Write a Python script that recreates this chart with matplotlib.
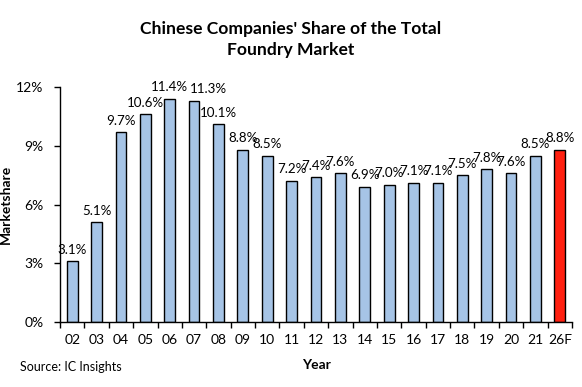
import matplotlib.pyplot as plt
import numpy as np

years = ['02', '03', '04', '05', '06', '07', '08', '09', '10', '11', '12',
         '13', '14', '15', '16', '17', '18', '19', '20', '21', '26F']
share = [3.1, 5.1, 9.7, 10.6, 11.4, 11.3, 10.1, 8.8, 8.5, 7.2, 7.4,
         7.6, 6.9, 7.0, 7.1, 7.1, 7.5, 7.8, 7.6, 8.5, 8.8]

plt.rcParams['font.family'] = ['Lato', 'DejaVu Sans']

fig = plt.figure(figsize=(5.82, 3.87), dpi=100)
ax = fig.add_axes([0.1031, 0.168, 0.8797, 0.607])

x = np.arange(len(years))
colors = ['#A6C4E6'] * (len(years) - 1) + ['#FF2010']
ax.bar(x, share, width=0.44, color=colors, edgecolor='black', linewidth=1)

for i, (xi, v) in enumerate(zip(x, share)):
    # the 07 label sits nudged right in the original so it clears 06
    dx = 10 if i == 5 else 0
    ax.annotate(f'{v:.1f}%', (xi, v), xytext=(dx, 4), textcoords='offset points',
                ha='center', va='bottom', fontsize=9.6)

ax.set_xlim(-0.5, len(years) - 0.5)
ax.set_ylim(0, 12)
ax.set_yticks([0, 3, 6, 9, 12])
ax.set_yticklabels(['0%', '3%', '6%', '9%', '12%'], fontsize=10)
ax.set_xticks(x)
ax.set_xticklabels(years, fontsize=10)
ax.set_xticks(np.arange(-0.5, len(years)), minor=True)
ax.tick_params(axis='x', which='major', length=0, pad=9)
ax.tick_params(axis='x', which='minor', length=4, width=1, direction='out')
ax.tick_params(axis='y', length=4, width=1, direction='out', pad=8)

for s in ['top', 'right']:
    ax.spines[s].set_visible(False)
for s in ['left', 'bottom']:
    ax.spines[s].set_linewidth(1)

ax.set_xlabel('Year', fontsize=10, fontweight='bold', labelpad=9)
ax.set_ylabel('Marketshare', fontsize=10, fontweight='bold')
ax.yaxis.set_label_coords(-0.094, 0.5)

fig.text(0.5, 0.897, "Chinese Companies' Share of the Total\nFoundry Market",
         ha='center', va='center', fontsize=12.6, fontweight='bold', linespacing=1.4)
fig.text(0.035, 0.052, 'Source: IC Insights', fontsize=9, va='center')

fig.savefig('out.png', dpi=100)
